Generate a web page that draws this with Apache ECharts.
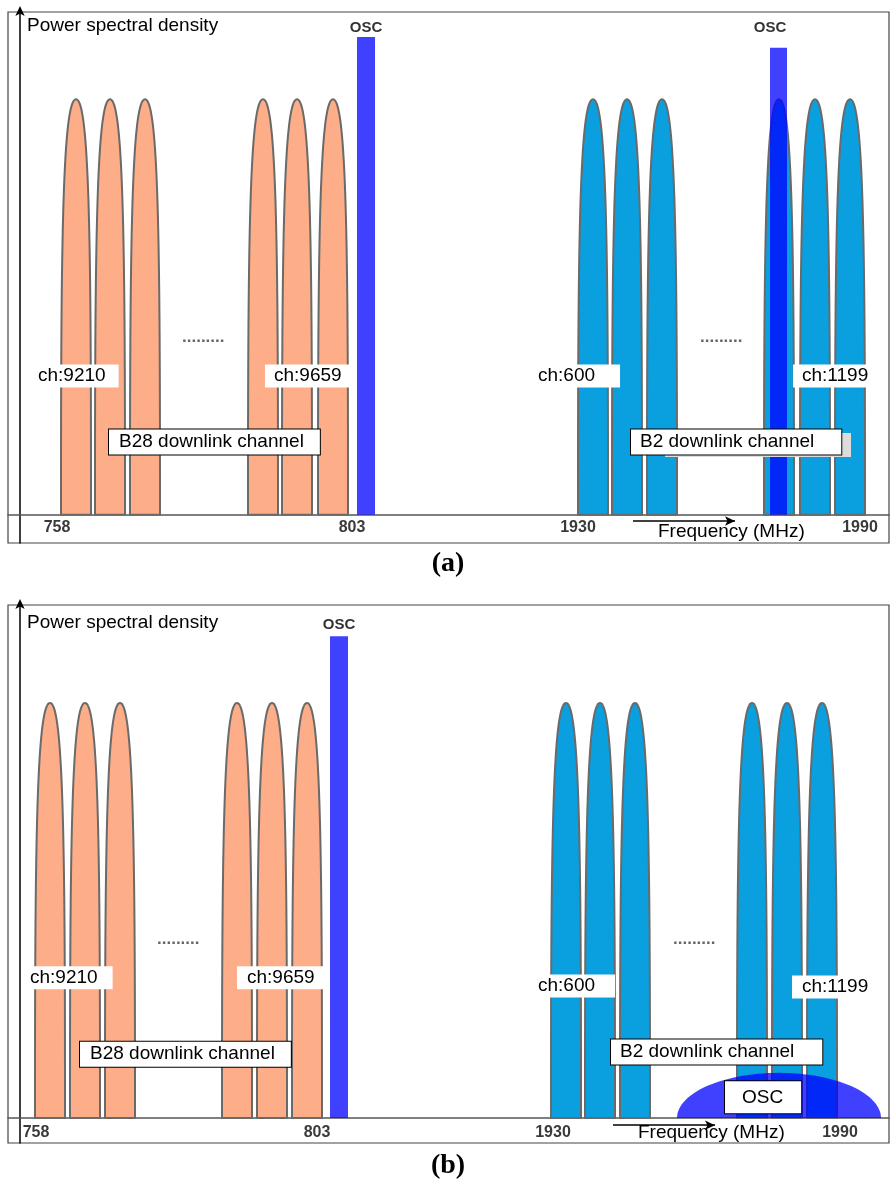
<!DOCTYPE html>
<html><head><meta charset="utf-8">
<script src="https://cdn.jsdelivr.net/npm/echarts@6/dist/echarts.min.js"></script>
<style>html,body{margin:0;padding:0;background:#fff}#c{width:896px;height:1181px}</style>
</head><body><div id="c"></div>
<script>
// ---- data (schematic frequency axis units; 0 = PSD axis) ----
const tickLabels = ['758', '803', '1930', '1990'];
const tickPosA = [37, 332, 558, 840];
const tickPosB = [16, 297, 533, 820];
const b28CentersA = [56, 90, 125, 243, 277, 313];
const b2CentersA = [573, 607, 642, 759, 795, 830];
const b28CentersB = [30, 65, 100, 217, 252, 287];
const b2CentersB = [546, 580, 615, 732, 767, 802];
const channelBandwidth = 30;
const channelPeak = 1.0;
const oscBarsA = [[337, 355, 1.150], [750, 767, 1.124]];   // [start, end, level]
const oscBarsB = [[310, 328, 1.161]];
const oscDomeB = [[657, 861, 0.109]];                        // [start, end, level]
const chLabels = ['ch:9210', 'ch:9659', 'ch:600', 'ch:1199'];
const bandLabels = ['B28 downlink channel', 'B2 downlink channel'];
const yTitle = 'Power spectral density';
const xTitle = 'Frequency (MHz)';
const oscName = 'OSC';
const dots = '.........';

// ---- styling ----
const FONT = '"Liberation Sans", Arial, sans-serif';
const ORANGE = '#FDAD88';
const BLUE = '#0AA0E0';
const OSC_FILL = 'rgba(0,0,255,0.75)';

function lobeRender(fill) {
  return function (params, api) {
    const c = api.value(0), hw = api.value(1) / 2, pk = api.value(2);
    const prof = [];
    const N = 60;
    for (let i = 0; i <= N; i++) {
      const s = i / N;
      const d = s * s;
      const u = 1 - Math.pow(1 - s, 2.6);
      prof.push([u, 1 - d]);
    }
    const pts = [];
    for (let i = prof.length - 1; i >= 0; i--) pts.push(api.coord([c - hw * prof[i][0], prof[i][1] * pk]));
    for (let i = 1; i < prof.length; i++) pts.push(api.coord([c + hw * prof[i][0], prof[i][1] * pk]));
    return { type: 'polygon', shape: { points: pts },
      style: { fill: fill, stroke: '#6a6a6a', lineWidth: 2 } };
  };
}
function barRender(params, api) {
  const p0 = api.coord([api.value(0), api.value(2)]);
  const p1 = api.coord([api.value(1), 0]);
  return { type: 'rect', shape: { x: p0[0], y: p0[1], width: p1[0] - p0[0], height: p1[1] - p0[1] },
    style: { fill: OSC_FILL } };
}
function domeRender(params, api) {
  const x0 = api.value(0), x1 = api.value(1), h = api.value(2);
  const cx = (x0 + x1) / 2, a = (x1 - x0) / 2;
  const pts = [];
  for (let i = 0; i <= 60; i++) {
    const t = Math.PI * i / 60;
    pts.push(api.coord([cx - a * Math.cos(t), h * Math.sin(t)]));
  }
  return { type: 'polygon', shape: { points: pts }, style: { fill: OSC_FILL } };
}
function rectRender(params, api) {
  const p0 = api.coord([api.value(0), api.value(3)]);
  const p1 = api.coord([api.value(1), api.value(2)]);
  return { type: 'rect', shape: { x: p0[0], y: p0[1], width: p1[0] - p0[0], height: p1[1] - p0[1] },
    style: { fill: '#dcdcdc' } };
}
function txt(x, y, text, opts) {
  return { value: [x, y], itemStyle: { opacity: 1 },
    label: Object.assign({ show: true, formatter: text, position: 'right', distance: 0, opacity: 1,
    fontFamily: FONT, fontSize: 19, color: '#000', lineHeight: 20 }, opts || {}) };
}
const chBox = { backgroundColor: '#fff' };
const bandBox = { backgroundColor: '#fff', borderColor: '#000', borderWidth: 1 };
const oscTop = { position: 'inside', fontWeight: 'bold', fontSize: 15, color: '#333' };
const dotStyle = { fontSize: 17, color: '#666', fontWeight: 'bold' };

function xAx(gi, ticks, margin) {
  return { gridIndex: gi, type: 'value', min: -12, max: 869,
    axisLine: { show: true, onZero: true, lineStyle: { color: '#555', width: 1.5 } },
    axisTick: { show: false }, splitLine: { show: false },
    axisLabel: { show: true, customValues: ticks,
      formatter: v => { const i = ticks.indexOf(v); return i >= 0 ? tickLabels[i] : ''; },
      fontFamily: FONT, fontWeight: 'bold', fontSize: 16, color: '#3a3a3a', margin: margin } };
}
function yAx(gi, min, max) {
  return { gridIndex: gi, type: 'value', min: min, max: max,
    axisLine: { show: true, onZero: true, symbol: ['none', 'arrow'], symbolSize: [7, 10], symbolOffset: [0, 6],
      lineStyle: { color: '#000', width: 1.5 } },
    axisTick: { show: false }, axisLabel: { show: false }, splitLine: { show: false } };
}
function arrowLine(x0, x1, y) {
  return { silent: true, symbol: ['none', 'arrow'], symbolSize: [7, 10],
    lineStyle: { color: '#000', width: 1.5, type: 'solid', opacity: 1 }, label: { show: false },
    data: [[{ coord: [x0, y] }, { coord: [x1, y] }]] };
}
const lobeData = arr => arr.map(c => [c, channelBandwidth, channelPeak]);

const series = [
  // panel (a)
  { type: 'custom', xAxisIndex: 0, yAxisIndex: 0, z: 2, renderItem: lobeRender(ORANGE), data: lobeData(b28CentersA) },
  { type: 'custom', xAxisIndex: 0, yAxisIndex: 0, z: 2, renderItem: lobeRender(BLUE), data: lobeData(b2CentersA) },
  { type: 'custom', xAxisIndex: 0, yAxisIndex: 0, z: 3, renderItem: barRender, data: oscBarsA },
  { type: 'custom', xAxisIndex: 0, yAxisIndex: 0, z: 4, renderItem: rectRender, data: [[645, 831, 0.139, 0.197]] },
  { type: 'scatter', xAxisIndex: 0, yAxisIndex: 0, z: 6, symbolSize: 0, silent: true,
    itemStyle: { opacity: 1 },
    markLine: arrowLine(613, 715, -0.015),
    data: [
      txt(7, 1.176, yTitle),
      txt(346, 1.172, oscName, oscTop),
      txt(750, 1.172, oscName, oscTop),
      txt(10, 0.334, chLabels[0], Object.assign({ padding: [2, 13, 1, 8] }, chBox)),
      txt(245, 0.334, chLabels[1], Object.assign({ padding: [2, 8, 1, 9] }, chBox)),
      txt(510, 0.334, chLabels[2], Object.assign({ padding: [2, 25, 1, 8] }, chBox)),
      txt(773, 0.334, chLabels[3], Object.assign({ padding: [2, 2, 1, 9] }, chBox)),
      txt(89, 0.175, bandLabels[0], Object.assign({ padding: [3, 16, 2, 10] }, bandBox)),
      txt(611, 0.175, bandLabels[1], Object.assign({ padding: [3, 27, 2, 9] }, bandBox)),
      txt(162, 0.428, dots, dotStyle),
      txt(680, 0.428, dots, dotStyle),
      txt(638, -0.041, xTitle)
    ] },
  // panel (b)
  { type: 'custom', xAxisIndex: 1, yAxisIndex: 1, z: 2, renderItem: lobeRender(ORANGE), data: lobeData(b28CentersB) },
  { type: 'custom', xAxisIndex: 1, yAxisIndex: 1, z: 2, renderItem: lobeRender(BLUE), data: lobeData(b2CentersB) },
  { type: 'custom', xAxisIndex: 1, yAxisIndex: 1, z: 3, renderItem: barRender, data: oscBarsB },
  { type: 'custom', xAxisIndex: 1, yAxisIndex: 1, z: 3, renderItem: domeRender, data: oscDomeB },
  { type: 'scatter', xAxisIndex: 1, yAxisIndex: 1, z: 6, symbolSize: 0, silent: true,
    itemStyle: { opacity: 1 },
    markLine: arrowLine(593, 695, -0.017),
    data: [
      txt(7, 1.194, yTitle),
      txt(319, 1.188, oscName, oscTop),
      txt(2, 0.338, chLabels[0], Object.assign({ padding: [2, 15, 1, 8] }, chBox)),
      txt(217, 0.338, chLabels[1], Object.assign({ padding: [2, 10, 1, 10] }, chBox)),
      txt(510, 0.318, chLabels[2], Object.assign({ padding: [2, 20, 1, 8] }, chBox)),
      txt(772, 0.316, chLabels[3], Object.assign({ padding: [2, 2, 1, 10] }, chBox)),
      txt(60, 0.154, bandLabels[0], Object.assign({ padding: [3, 16, 2, 10] }, bandBox)),
      txt(591, 0.159, bandLabels[1], Object.assign({ padding: [3, 28, 2, 9] }, bandBox)),
      txt(705, 0.050, oscName, Object.assign({ padding: [6, 18, 6, 17] }, bandBox)),
      txt(137, 0.431, dots, dotStyle),
      txt(653, 0.431, dots, dotStyle),
      txt(618, -0.036, xTitle)
    ] }
];

const chart = echarts.init(document.getElementById('c'), null, { renderer: 'canvas' });
chart.setOption({
  animation: false,
  backgroundColor: '#fff',
  title: [
    { text: '(a)', left: 'center', top: 550, padding: 0,
      textStyle: { fontFamily: '"Liberation Serif", "Times New Roman", serif', fontWeight: 'bold', fontSize: 28, color: '#000' } },
    { text: '(b)', left: 'center', top: 1152, padding: 0,
      textStyle: { fontFamily: '"Liberation Serif", "Times New Roman", serif', fontWeight: 'bold', fontSize: 28, color: '#000' } }
  ],
  grid: [
    { left: 8, right: 7, top: 12, height: 531, show: true, borderColor: '#444', borderWidth: 1.2, backgroundColor: 'transparent' },
    { left: 8, right: 7, top: 605, height: 538, show: true, borderColor: '#444', borderWidth: 1.2, backgroundColor: 'transparent' }
  ],
  xAxis: [xAx(0, tickPosA, -23), xAx(1, tickPosB, -18)],
  yAxis: [yAx(0, -0.068, 1.21), yAx(1, -0.06, 1.236)],
  series: series
});
</script>
</body></html>
